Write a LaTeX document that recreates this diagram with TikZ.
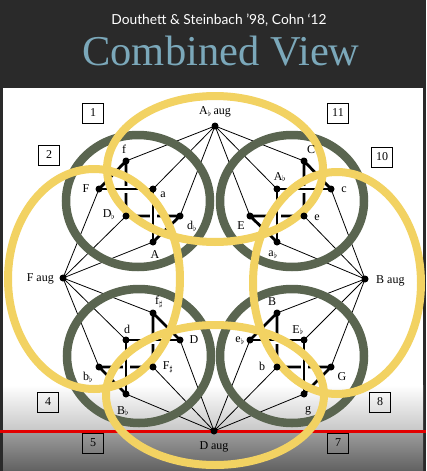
\documentclass[tikz,border=0pt]{standalone}
\usepackage{fontspec}
\setmainfont{Liberation Serif}
\newfontfamily\titlefont{Lato}
\usetikzlibrary{calc}
\definecolor{slidebg}{HTML}{2A2A2A}
\definecolor{titleblue}{HTML}{7BA8BA}
\definecolor{ringgreen}{HTML}{5A6550}
\definecolor{ringyellow}{HTML}{F2D262}
\definecolor{redline}{HTML}{E30000}
\newcommand{\fl}{$_\flat$}
\newcommand{\shp}{$_\sharp$}
\begin{document}
\begin{tikzpicture}[x=1pt,y=-1pt,
  dot/.style={circle,fill=black,inner sep=0pt,minimum size=7pt},
  thinline/.style={line width=0.8pt},
  cubeedge/.style={line width=2.8pt},
  gapline/.style={white,line width=7pt},
  greenring/.style={draw=ringgreen,line width=8.5pt},
  yellowring/.style={draw=ringyellow,line width=8pt},
  lbl/.style={inner sep=0pt,font=\fontsize{12}{12}\selectfont},
  numbox/.style={draw,line width=0.9pt,minimum width=21pt,minimum height=20pt,inner sep=0pt,font=\fontsize{12}{12}\selectfont}]
\useasboundingbox (0,0) rectangle (426,471);
% background
\fill[slidebg] (0,0) rectangle (426,471);
\fill[white] (3,88) rectangle (423,471);
\shade[top color=white,bottom color=black!22] (3,385) rectangle (423,431);
\shade[top color=black!38,bottom color=black!62] (3,431) rectangle (423,471);
\draw[redline,line width=2.5pt] (0,431.5) -- (426,431.5);
% titles
\node[anchor=base,text=white,font=\titlefont\fontsize{13.8}{16}\selectfont] (sub) at (219,24) {Douthett \& Steinbach ’98, Cohn ‘12};
\node[anchor=base,text=titleblue,font=\fontsize{42.5}{44}\selectfont] (title) at (221,65) {Combined View};
% coordinates of triads
\coordinate (F) at (99,189);   \coordinate (a) at (153,189);  \coordinate (A) at (153,242);
\coordinate (f) at (126,161);  \coordinate (Db) at (126,216); \coordinate (db) at (180,216);
\coordinate (C) at (304,161);  \coordinate (E) at (250,216);  \coordinate (e) at (304,216);
\coordinate (Ab) at (277,189); \coordinate (c) at (331,189);  \coordinate (ab) at (277,242);
\coordinate (d) at (126,340);  \coordinate (D) at (180,340);  \coordinate (Bb) at (126,394);
\coordinate (fs) at (153,313); \coordinate (bb) at (99,367);  \coordinate (Fs) at (153,367);
\coordinate (eb) at (250,340); \coordinate (Eb) at (304,340); \coordinate (g) at (304,394);
\coordinate (B) at (277,313);  \coordinate (b) at (277,367);  \coordinate (G) at (331,367);
\coordinate (Abaug) at (215,126); \coordinate (Faug) at (63,278);
\coordinate (Baug) at (365,279);  \coordinate (Daug) at (214,431);
% thin connectors
\foreach \t in {f,a,db,C,Ab,E} \draw[thinline] (Abaug) -- (\t);
\foreach \t in {F,Db,A,fs,d,bb} \draw[thinline] (Faug) -- (\t);
\foreach \t in {c,e,ab,B,Eb,G} \draw[thinline] (Baug) -- (\t);
\foreach \t in {D,Fs,Bb,eb,b,g} \draw[thinline] (Daug) -- (\t);
% green rings
\draw[greenring] (138,201) ellipse (72 and 66);
\draw[greenring] (292,201) ellipse (72 and 66);
\draw[greenring] (139,356) ellipse (72 and 67);
\draw[greenring] (292,356) ellipse (72 and 67);
% cube edges: back and diagonal
\draw[cubeedge] (F) -- (f) -- (Db) -- (db) -- (A);
\draw[cubeedge] (c) -- (C) -- (e) -- (E) -- (ab);
\draw[cubeedge] (D) -- (fs) -- (Fs) -- (bb) -- (Bb);
\draw[cubeedge] (eb) -- (B) -- (b) -- (G) -- (g);
% gaps and front edges
\draw[gapline] ($(F)!0.35!(a)$) -- ($(F)!0.65!(a)$);
\draw[gapline] ($(a)!0.35!(A)$) -- ($(a)!0.65!(A)$);
\draw[cubeedge] (F) -- (a) -- (A);
\draw[gapline] ($(Ab)!0.35!(c)$) -- ($(Ab)!0.65!(c)$);
\draw[gapline] ($(Ab)!0.35!(ab)$) -- ($(Ab)!0.65!(ab)$);
\draw[cubeedge] (c) -- (Ab) -- (ab);
\draw[gapline] ($(d)!0.35!(D)$) -- ($(d)!0.65!(D)$);
\draw[gapline] ($(d)!0.35!(Bb)$) -- ($(d)!0.65!(Bb)$);
\draw[cubeedge] (D) -- (d) -- (Bb);
\draw[gapline] ($(eb)!0.35!(Eb)$) -- ($(eb)!0.65!(Eb)$);
\draw[gapline] ($(Eb)!0.35!(g)$) -- ($(Eb)!0.65!(g)$);
\draw[cubeedge] (eb) -- (Eb) -- (g);
% yellow rings
\draw[yellowring] (215,169) ellipse (108 and 73);
\draw[yellowring] (94,279) ellipse (86 and 110);
\draw[yellowring] (337,283) ellipse (84 and 111);
\draw[yellowring] (215,395) ellipse (109 and 70);
% dots
\foreach \t in {F,a,A,f,Db,db,C,E,e,Ab,c,ab,d,D,Bb,fs,bb,Fs,eb,Eb,g,B,b,G,Abaug,Faug,Baug,Daug}
  \node[dot] (\t-dot) at (\t) {};
% triad labels
\node[lbl] (l-f) at (124,149) {f};
\node[lbl] (l-F) at (86,189) {F};
\node[lbl] (l-a) at (163,195) {a};
\node[lbl] (l-Db) at (109,215) {D\fl};
\node[lbl] (l-db) at (192,226) {d\fl};
\node[lbl] (l-A) at (155,255) {A};
\node[lbl] (l-C) at (311,150) {C};
\node[lbl] (l-Ab) at (280,177) {A\fl};
\node[lbl] (l-c) at (344,190) {c};
\node[lbl] (l-E) at (241,226) {E};
\node[lbl] (l-e) at (317,218) {e};
\node[lbl] (l-ab) at (273,255) {a\fl};
\node[lbl] (l-fs) at (159,302) {f\shp};
\node[lbl] (l-d) at (127,329) {d};
\node[lbl] (l-D) at (194,340) {D};
\node[lbl] (l-bb) at (88,377) {b\fl};
\node[lbl] (l-Fs) at (168,367) {F\shp};
\node[lbl] (l-Bb) at (123,411) {B\fl};
\node[lbl] (l-B) at (272,302) {B};
\node[lbl] (l-Eb) at (298,330) {E\fl};
\node[lbl] (l-eb) at (240,341) {e\fl};
\node[lbl] (l-b) at (262,366) {b};
\node[lbl] (l-G) at (342,377) {G};
\node[lbl] (l-g) at (308,411) {g};
% augmented labels
\node[lbl] (l-Abaug) at (215,112) {A\fl\,aug};
\node[lbl,anchor=east] (l-Faug) at (54,279) {F aug};
\node[lbl,anchor=west] (l-Baug) at (376,281) {B aug};
\node[lbl] (l-Daug) at (214,447) {D aug};
% numbered boxes
\node[numbox] (n1) at (93,113) {1};
\node[numbox] (n11) at (338,113) {11};
\node[numbox] (n2) at (49,155) {2};
\node[numbox] (n10) at (382,157) {10};
\node[numbox] (n4) at (48,402) {4};
\node[numbox] (n8) at (380,402) {8};
\node[numbox] (n5) at (93,443) {5};
\node[numbox] (n7) at (338,443) {7};
\end{tikzpicture}
\end{document}
